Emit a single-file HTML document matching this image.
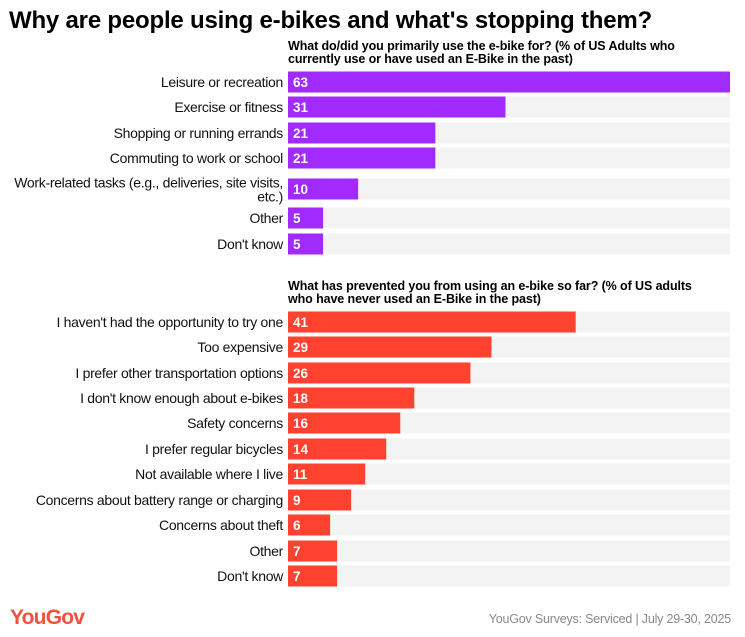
<!DOCTYPE html>
<html><head><meta charset="utf-8"><style>
body{margin:0;background:#fff;}
svg{display:block;font-family:"Liberation Sans",Arial,sans-serif;}
</style></head><body>
<svg id="chart" width="745" height="637">
<text x="9" y="28" font-size="24" font-weight="bold" fill="#000" letter-spacing="-0.2">Why are people using e-bikes and what's stopping them?</text>
<text x="288" y="50" font-size="12.5" font-weight="bold" letter-spacing="-0.1"><tspan x="288">What do/did you primarily use the e-bike for? (% of US Adults who</tspan><tspan x="288" dy="13">currently use or have used an E-Bike in the past)</tspan></text>
<text x="288" y="290" font-size="12.5" font-weight="bold" letter-spacing="-0.1"><tspan x="288">What has prevented you from using an e-bike so far? (% of US adults</tspan><tspan x="288" dy="13">who have never used an E-Bike in the past)</tspan></text>
<g id="bars"></g>
<text x="10" y="624" font-size="21" font-weight="bold" fill="#f0523d" letter-spacing="-0.8">YouGov</text>
<text x="731" y="623" font-size="12.5" fill="#888" text-anchor="end" letter-spacing="-0.2">YouGov Surveys: Serviced | July 29-30, 2025</text>
</svg>
<script>
const useCats=["Leisure or recreation","Exercise or fitness","Shopping or running errands","Commuting to work or school","Work-related tasks (e.g., deliveries, site visits,|etc.)","Other","Don't know"];
const useVals=[63,31,21,21,10,5,5];
const barrierCats=["I haven't had the opportunity to try one","Too expensive","I prefer other transportation options","I don't know enough about e-bikes","Safety concerns","I prefer regular bicycles","Not available where I live","Concerns about battery range or charging","Concerns about theft","Other","Don't know"];
const barrierVals=[41,29,26,18,16,14,11,9,6,7,7];
const x0=288,x1=730,maxV=63;
function xs(v){return v*(x1-x0)/maxV;}
const g=document.getElementById('bars');
const NS="http://www.w3.org/2000/svg";
function mk(t,a){const e=document.createElementNS(NS,t);for(const k in a)e.setAttribute(k,a[k]);return e;}
function section(cats,vals,centers,color,nm){
 cats.forEach((c,i)=>{
  const cy=centers[i];
  const tr=mk('rect',{x:x0,y:cy-10.5,width:x1-x0,height:21,fill:'#f3f3f3'});
  
  
  g.appendChild(tr);
  const b=mk('rect',{x:x0,y:cy-10.5,width:xs(vals[i]),height:21,fill:color});
  
  
  g.appendChild(b);
  const v=mk('text',{x:x0+5,y:cy+5,'font-size':13.5,'font-weight':'bold',fill:'#fff'});
  v.textContent=vals[i];
  
  
  g.appendChild(v);
  const parts=c.split('|');
  const l=mk('text',{x:283,y:cy+5-(parts.length-1)*6.5,'font-size':14,'text-anchor':'end',fill:'#111','letter-spacing':'-0.3'});
  parts.forEach((p,j)=>{const ts=mk('tspan',{x:283,dy:j?14:0});ts.textContent=p;l.appendChild(ts);});
  
  
  g.appendChild(l);
 });
}
section(useCats,useVals,[82,107,133,158,189,218,244],'#a12bff','usage');
section(barrierCats,barrierVals,[322,347,373,398,423,449,474,500,525,551,576],'#ff4130','barrier');
</script>
</body></html>
